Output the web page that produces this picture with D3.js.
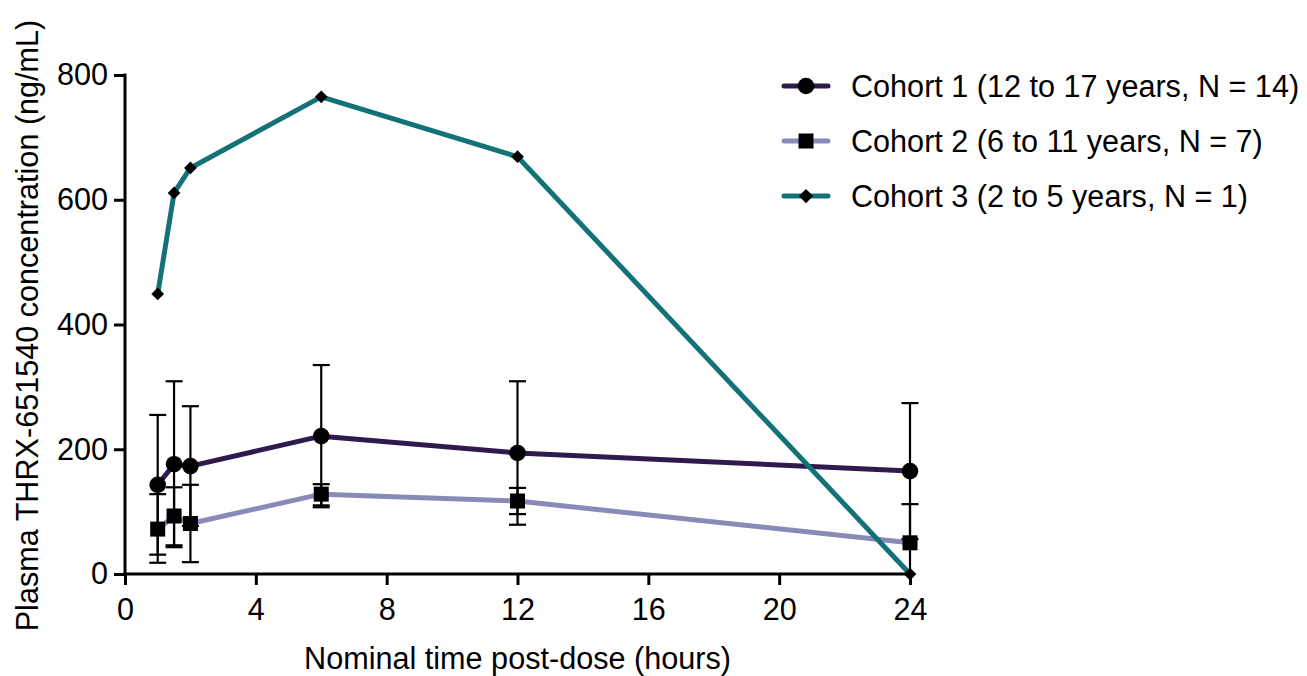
<!DOCTYPE html>
<html>
<head>
<meta charset="utf-8">
<script src="https://cdn.jsdelivr.net/npm/d3@7"></script>
<style>
  body { margin: 0; background: #fff; }
  text { font-family: "Liberation Sans", Arial, sans-serif; fill: #000; }
</style>
</head>
<body>
<svg id="chart" width="1307" height="676"></svg>
<script>
const times = [1, 1.5, 2, 6, 12, 24];
const xTicks = [0, 4, 8, 12, 16, 20, 24];
const yTicks = [0, 200, 400, 600, 800];

const cohort1Mean = [143, 176, 173, 221, 194, 165];
const cohort1Upper = [255, 309, 269, 335, 309, 274];
const cohort1Lower = [31, 43, 77, 107, 79, 56];

const cohort2Mean = [72, 93, 81, 128, 117, 50];
const cohort2Upper = [128, 139, 143, 144, 138, 112];
const cohort2Lower = [18, 46, 19, 110, 96, 0];

const cohort3Mean = [449, 611, 651, 765, 669, 0];

const seriesNames = [
  "Cohort 1 (12 to 17 years, N = 14)",
  "Cohort 2 (6 to 11 years, N = 7)",
  "Cohort 3 (2 to 5 years, N = 1)"
];
const seriesColors = ["#2e1a4e", "#8a8ab8", "#137278"];
const seriesShapes = ["circle", "square", "diamond"];

const series = [
  { name: seriesNames[0], color: seriesColors[0], shape: seriesShapes[0], mean: cohort1Mean, upper: cohort1Upper, lower: cohort1Lower },
  { name: seriesNames[1], color: seriesColors[1], shape: seriesShapes[1], mean: cohort2Mean, upper: cohort2Upper, lower: cohort2Lower },
  { name: seriesNames[2], color: seriesColors[2], shape: seriesShapes[2], mean: cohort3Mean, upper: null, lower: null }
];

const FS = 30.6;
const svg = d3.select("#chart");
const x = d3.scaleLinear().domain([0, 24]).range([125, 910]);
const y = d3.scaleLinear().domain([0, 800]).range([574, 75]);

// Axes
const xAxis = svg.append("g").attr("transform", `translate(0,${y(0)})`)
  .call(d3.axisBottom(x).tickValues(xTicks).tickSize(11).tickPadding(13).tickSizeOuter(0));
const yAxis = svg.append("g").attr("transform", `translate(${x(0)},0)`)
  .call(d3.axisLeft(y).tickValues(yTicks).tickSize(11).tickPadding(6).tickSizeOuter(0));
[xAxis, yAxis].forEach(g => {
  g.select(".domain").attr("stroke", "#000").attr("stroke-width", 3);
  g.selectAll(".tick line").attr("stroke", "#000").attr("stroke-width", 3);
  g.selectAll(".tick text").style("font-size", FS + "px").style("font-family", '"Liberation Sans", Arial, sans-serif').attr("fill", "#000");
});
xAxis.select(".domain").attr("d", `M${x(0)-1.5},0H${x(24)+1.5}`);
yAxis.select(".domain").attr("d", `M0,${y(800)-1.5}V${y(0)+1.5}`);

// Axis titles
svg.append("text").attr("x", (x(0) + x(24)) / 2).attr("y", 669)
  .attr("text-anchor", "middle").style("font-size", FS + "px")
  .text("Nominal time post-dose (hours)");
svg.append("text")
  .attr("transform", `translate(38,${(y(0) + y(800)) / 2 + 1}) rotate(-90)`)
  .attr("text-anchor", "middle").style("font-size", FS + "px")
  .text("Plasma THRX-651540 concentration (ng/mL)");

const line = d3.line().x(d => x(d[0])).y(d => y(d[1]));

function drawMarker(g, shape, cx, cy, s) {
  if (shape === "circle") {
    g.append("circle").attr("cx", cx).attr("cy", cy).attr("r", 8.3 * s).attr("fill", "#000");
  } else if (shape === "square") {
    const h = 7.5 * s;
    g.append("rect").attr("x", cx - h).attr("y", cy - h).attr("width", 2 * h).attr("height", 2 * h).attr("fill", "#000");
  } else {
    const h = 7.5 * s;
    g.append("path").attr("d", `M${cx},${cy - h}L${cx + h},${cy}L${cx},${cy + h}L${cx - h},${cy}Z`).attr("fill", "#000");
  }
}

const plot = svg.append("g");
series.forEach(s => {
  plot.append("path").datum(times.map((t, i) => [t, s.mean[i]]))
    .attr("d", line).attr("fill", "none").attr("stroke", s.color).attr("stroke-width", 5)
    .attr("stroke-linejoin", "round").attr("stroke-linecap", "round");
});
series.forEach(s => {
  if (!s.upper) return;
  times.forEach((t, i) => {
    const cx = x(t);
    const yu = y(s.upper[i]);
    const yl = y(Math.max(0, s.lower[i]));
    plot.append("line").attr("x1", cx).attr("x2", cx).attr("y1", yu).attr("y2", yl)
      .attr("stroke", "#000").attr("stroke-width", 2.2);
    plot.append("line").attr("x1", cx - 8.5).attr("x2", cx + 8.5).attr("y1", yu).attr("y2", yu)
      .attr("stroke", "#000").attr("stroke-width", 2.2);
    if (s.lower[i] > 0) {
      plot.append("line").attr("x1", cx - 8.5).attr("x2", cx + 8.5).attr("y1", yl).attr("y2", yl)
        .attr("stroke", "#000").attr("stroke-width", 2.2);
    }
  });
});
series.forEach(s => {
  times.forEach((t, i) => drawMarker(plot, s.shape, x(t), y(s.mean[i]), s.shape === "diamond" ? 0.85 : 1));
});

// Legend
const legendRows = [86, 141, 196];
series.forEach((s, i) => {
  const g = svg.append("g");
  const ly = legendRows[i];
  g.append("line").attr("x1", 784).attr("x2", 828).attr("y1", ly).attr("y2", ly)
    .attr("stroke", s.color).attr("stroke-width", 5).attr("stroke-linecap", "round");
  drawMarker(g, s.shape, 806, ly, s.shape === "diamond" ? 0.95 : 1);
  g.append("text").attr("x", 851).attr("y", ly + 10.5).style("font-size", FS + "px").text(s.name);
});
</script>
</body>
</html>
